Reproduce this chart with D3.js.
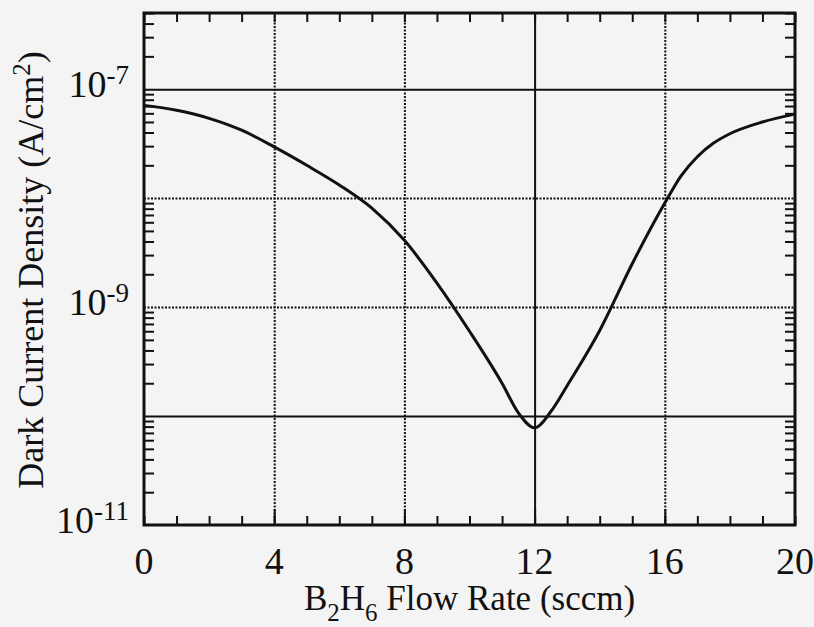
<!DOCTYPE html>
<html lang="en">
<head>
  <meta charset="UTF-8" />
  <title>Dark Current Density vs B2H6 Flow Rate</title>
  <script src="https://d3js.org/d3.v7.min.js"></script>
  <style>
    body {
      margin: 0;
      background: #f4f4f4;
      font-family: "Liberation Serif", "DejaVu Serif", serif;
    }
    svg { display: block; }
    .grid line { stroke: #111; stroke-width: 2; }
    .grid .domain { display: none; }
    .tick-axis .domain { display: none; }
    .tick-axis line { stroke: #111; stroke-width: 2; }
  </style>
</head>
<body>

<svg width="814" height="627"></svg>

<script>
  // flow rate (sccm) and dark current density (A/cm^2)
  const flow = [0, 1, 2, 3, 4, 5, 6, 7, 8, 9, 10, 11, 11.5, 12, 12.5, 13, 14, 15, 16, 16.5, 17, 17.5, 18, 19, 20];
  const density = [7.1e-8, 6.4e-8, 5.4e-8, 4.2e-8, 2.95e-8, 2.0e-8, 1.32e-8, 8.1e-9, 4.1e-9, 1.66e-9,
                   6.0e-10, 2.0e-10, 1.07e-10, 7.8e-11, 1.1e-10, 1.9e-10, 6.1e-10, 2.5e-9, 9.0e-9,
                   1.6e-8, 2.4e-8, 3.2e-8, 3.9e-8, 5.0e-8, 5.9e-8];

  const xMajor = [0, 4, 8, 12, 16, 20];
  const xGrid = [4, 8, 12, 16];
  const yDecades = [1e-11, 1e-10, 1e-9, 1e-8, 1e-7];
  const yLabelExp = [-11, -9, -7];
  const solidGridX = [12];
  const solidGridY = [1e-10, 1e-7];

  const svg = d3.select("svg");
  const plot = { left: 144, right: 795, top: 13, bottom: 525 };

  const x = d3.scaleLinear().domain([0, 20]).range([plot.left, plot.right]);
  const y = d3.scaleLog().domain([1e-11, 5e-7]).range([plot.bottom, plot.top]);

  // minor ticks on y (2..9 of every decade)
  const yMinor = [];
  for (let e = -11; e <= -7; e++) {
    for (let m = 2; m <= 9; m++) {
      const v = m * Math.pow(10, e);
      if (v <= 5e-7) yMinor.push(v);
    }
  }
  const xMinor = d3.range(0, 21, 1);

  // Gridlines
  svg.append("g")
    .attr("class", "grid")
    .attr("transform", `translate(0,${plot.bottom})`)
    .call(d3.axisBottom(x).tickValues(xGrid).tickSize(-(plot.bottom - plot.top)).tickFormat(""))
    .selectAll("line")
    .attr("stroke-dasharray", d => solidGridX.includes(d) ? null : "2,1.5");

  svg.append("g")
    .attr("class", "grid")
    .attr("transform", `translate(${plot.left},0)`)
    .call(d3.axisLeft(y).tickValues(yDecades.slice(1)).tickSize(-(plot.right - plot.left)).tickFormat(""))
    .selectAll("line")
    .attr("stroke-dasharray", d => solidGridY.includes(d) ? null : "2,1.5");

  // Inward ticks: bottom/top
  svg.append("g").attr("class", "tick-axis")
    .attr("transform", `translate(0,${plot.bottom})`)
    .call(d3.axisBottom(x).tickValues(xMinor).tickSize(-9).tickFormat(""));
  svg.append("g").attr("class", "tick-axis")
    .attr("transform", `translate(0,${plot.top})`)
    .call(d3.axisTop(x).tickValues(xMinor).tickSize(-9).tickFormat(""));
  svg.append("g").attr("class", "tick-axis")
    .attr("transform", `translate(0,${plot.bottom})`)
    .call(d3.axisBottom(x).tickValues(xGrid).tickSize(-16).tickFormat(""));

  // Inward ticks: left/right
  svg.append("g").attr("class", "tick-axis")
    .attr("transform", `translate(${plot.left},0)`)
    .call(d3.axisLeft(y).tickValues(yMinor).tickSize(-10).tickFormat(""));
  svg.append("g").attr("class", "tick-axis")
    .attr("transform", `translate(${plot.right},0)`)
    .call(d3.axisRight(y).tickValues(yMinor).tickSize(-10).tickFormat(""));

  // Frame
  svg.append("rect")
    .attr("x", plot.left).attr("y", plot.top)
    .attr("width", plot.right - plot.left).attr("height", plot.bottom - plot.top)
    .attr("fill", "none").attr("stroke", "#111").attr("stroke-width", 3);

  // Curve
  const line = d3.line()
    .x((d, i) => x(flow[i]))
    .y(d => y(d))
    .curve(d3.curveMonotoneX);

  svg.append("path")
    .datum(density)
    .attr("d", line)
    .attr("fill", "none")
    .attr("stroke", "#111")
    .attr("stroke-width", 3);

  // X tick labels
  svg.append("g").selectAll("text")
    .data(xMajor)
    .join("text")
    .attr("x", d => x(d))
    .attr("y", 574)
    .attr("text-anchor", "middle")
    .attr("font-size", 38)
    .attr("fill", "#111")
    .text(d => d);

  // Y tick labels with superscripts
  const yl = svg.append("g").selectAll("text")
    .data(yLabelExp)
    .join("text")
    .attr("x", 129)
    .attr("y", d => y(Math.pow(10, d)) + 8)
    .attr("text-anchor", "end")
    .attr("font-size", 38)
    .attr("fill", "#111");
  yl.append("tspan").text("10");
  yl.append("tspan").attr("dy", -13).attr("font-size", 27).text(d => d);

  // X axis title
  const xt = svg.append("text")
    .attr("x", (plot.left + plot.right) / 2).attr("y", 610)
    .attr("text-anchor", "middle")
    .attr("font-size", 35)
    .attr("fill", "#111");
  xt.append("tspan").text("B");
  xt.append("tspan").attr("dy", 11).attr("font-size", 25).text("2");
  xt.append("tspan").attr("dy", -11).text("H");
  xt.append("tspan").attr("dy", 11).attr("font-size", 25).text("6");
  xt.append("tspan").attr("dy", -11).text(" Flow Rate (sccm)");

  // Y axis title
  const yt = svg.append("text")
    .attr("transform", "translate(43,270) rotate(-90)")
    .attr("text-anchor", "middle")
    .attr("font-size", 36)
    .attr("fill", "#111");
  yt.append("tspan").text("Dark Current Density (A/cm");
  yt.append("tspan").attr("dy", -13).attr("font-size", 25).text("2");
  yt.append("tspan").attr("dy", 13).text(")");
</script>

</body>
</html>
